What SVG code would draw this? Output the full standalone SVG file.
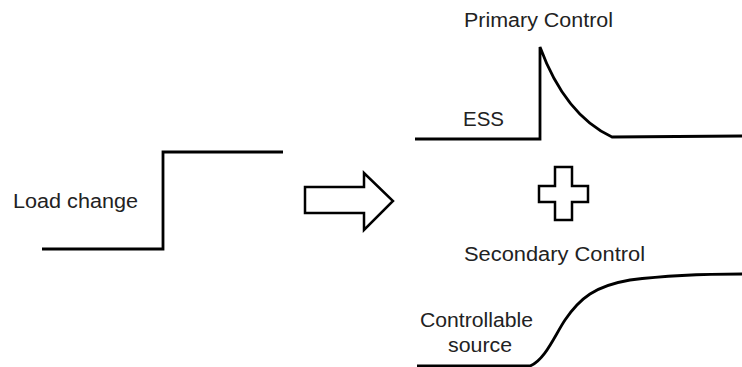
<svg xmlns="http://www.w3.org/2000/svg" width="742" height="367" viewBox="0 0 742 367">
<style>
.ln{fill:none;stroke:#000;stroke-width:2.8;stroke-linejoin:miter}
.sh{fill:#fff;stroke:#000;stroke-width:2.5}
.t{font-family:"Liberation Sans",Arial,sans-serif;font-size:20px;fill:#222}
</style>
<rect width="742" height="367" fill="#fff"/>
<g id="load-change">
<path class="ln" d="M42,249 H163 V152 H283"/>
<text class="t" x="13" y="208" textLength="125" lengthAdjust="spacingAndGlyphs">Load change</text>
</g>
<g id="connectors">
<path class="sh" d="M305,187 H364 V173 L393,201 L364,230 V213 H305 Z"/>
</g>
<g id="primary-control">
<text class="t" x="464" y="27" textLength="149" lengthAdjust="spacingAndGlyphs">Primary Control</text>
<path class="ln" d="M415,139 H540 V47 Q565,115 612,137 L742,136"/>
<text class="t" x="463" y="126" textLength="41" lengthAdjust="spacingAndGlyphs">ESS</text>
</g>
<g id="plus">
<path class="sh" d="M555,167 H572 V186 H588 V202 H572 V220 H555 V202 H539 V186 H555 Z"/>
</g>
<g id="secondary-control">
<text class="t" x="464" y="261" textLength="181" lengthAdjust="spacingAndGlyphs">Secondary Control</text>
<path class="ln" d="M417,366 H530 C545,360 555,335 565,320 C580,298 595,286 630,280 C670,275 710,274 742,274"/>
<text class="t" x="420" y="327" textLength="113" lengthAdjust="spacingAndGlyphs">Controllable</text>
<text class="t" x="448" y="352" textLength="64" lengthAdjust="spacingAndGlyphs">source</text>
</g>
</svg>
